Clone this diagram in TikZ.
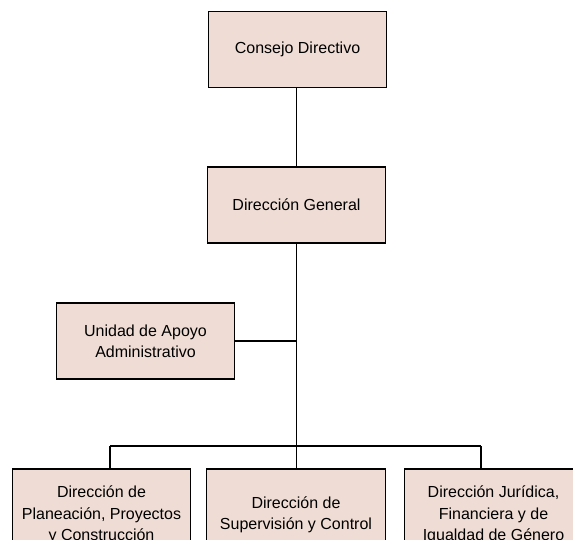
\documentclass[tikz,border=0pt]{standalone}
\usepackage{fontspec}
\setmainfont{Liberation Sans}
\definecolor{boxfill}{RGB}{239,221,213}
\begin{document}
\begin{tikzpicture}[x=0.75pt,y=-0.75pt,
  orgbox/.style={draw=black,fill=boxfill,line width=0.8pt,inner sep=0pt,
    minimum width=134pt,minimum height=57pt,align=center,
    font=\fontsize{12}{16}\selectfont},
  tallbox/.style={orgbox,minimum height=69pt},
  link/.style={draw=black,line width=0.8pt}]
\clip (0,0) rectangle (573,539);
\fill[white] (0,0) rectangle (573,539);
\node[orgbox] (cd) at (297.5,49.5) {Consejo Directivo};
\node[orgbox] (dg) at (296.5,205) {Dirección General};
\node[orgbox] (ua) at (145.5,341) {Unidad de Apoyo\\Administrativo};
\node[tallbox] (dp) at (101.5,515) {Dirección de\\Planeación, Proyectos\\y Construcción};
\node[tallbox] (ds) at (296,515) {Dirección de\\Supervisión y Control};
\node[tallbox] (dj) at (493.5,515) {Dirección Jurídica,\\Financiera y de\\Igualdad de Género};
\coordinate (hub) at (296.5,446);
\coordinate (hl) at (110,446);
\coordinate (hr) at (481,446);
\path[link] (cd.south -| dg.north) -- (dg.north);
\path[link] (dg.south) -- (hub);
\path[link] (ua.east) -- (ua.east -| dg.south);
\path[link] (hl) -- (hr);
\path[link] (hl) -- (hl |- dp.north);
\path[link] (hub) -- (hub |- ds.north);
\path[link] (hr) -- (hr |- dj.north);
\end{tikzpicture}
\end{document}
